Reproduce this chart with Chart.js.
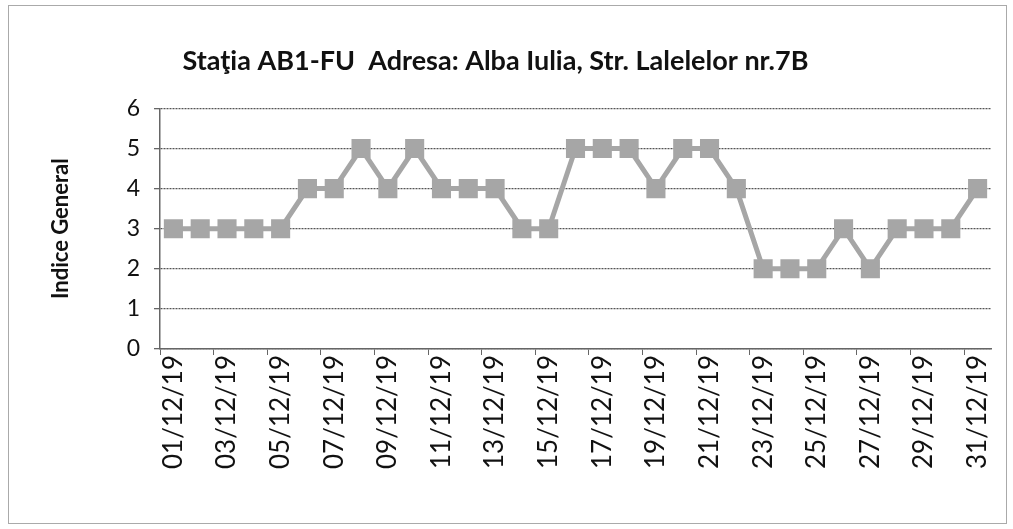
<!DOCTYPE html>
<html>
<head>
<meta charset="utf-8">
<script src="https://cdn.jsdelivr.net/npm/chart.js@4/dist/chart.umd.min.js"></script>
<style>
html,body{margin:0;padding:0;background:#fff;}
#wrap{width:1013px;height:529px;position:relative;}
</style>
</head>
<body>
<div id="wrap"><canvas id="c" width="1013" height="529"></canvas></div>
<script>
const categories = ["01/12/19","02/12/19","03/12/19","04/12/19","05/12/19","06/12/19","07/12/19","08/12/19","09/12/19","10/12/19","11/12/19","12/12/19","13/12/19","14/12/19","15/12/19","16/12/19","17/12/19","18/12/19","19/12/19","20/12/19","21/12/19","22/12/19","23/12/19","24/12/19","25/12/19","26/12/19","27/12/19","28/12/19","29/12/19","30/12/19","31/12/19"];
const indiceGeneral = [3,3,3,3,3,4,4,5,4,5,4,4,4,3,3,5,5,5,4,5,5,4,2,2,2,3,2,3,3,3,4];
const yTicks = [0,1,2,3,4,5,6];
const chartTitle = "Staţia AB1-FU  Adresa: Alba Iulia, Str. Lalelelor nr.7B";
const yTitle = "Indice General";

const FONT = "Lato, 'Open Sans', sans-serif";

const framePlugin = {
  id: 'frame',
  beforeDraw(chart) {
    const ctx = chart.ctx;
    ctx.save();
    ctx.fillStyle = '#fff';
    ctx.fillRect(0, 0, chart.width, chart.height);
    ctx.strokeStyle = '#aaa';
    ctx.lineWidth = 1;
    ctx.strokeRect(8.5, 5.5, 998, 518);
    ctx.restore();
  }
};

new Chart(document.getElementById('c'), {
  type: 'line',
  data: {
    labels: categories,
    datasets: [{
      label: yTitle,
      data: indiceGeneral,
      borderColor: '#a6a6a6',
      backgroundColor: '#a6a6a6',
      borderWidth: 5,
      pointStyle: 'rect',
      pointRadius: 13.5,
      pointBorderWidth: 0,
      pointBackgroundColor: '#a6a6a6',
      tension: 0
    }]
  },
  options: {
    responsive: false,
    animation: false,
    layout: { padding: { left: 0, right: 22, top: 0, bottom: 0 } },
    plugins: {
      legend: { display: false },
      tooltip: { enabled: false },
      title: {
        display: true,
        text: chartTitle,
        color: '#111',
        font: { family: FONT, size: 27, weight: 'bold' },
        padding: { top: 45, bottom: 31 },
        align: 'center'
      }
    },
    scales: {
      x: {
        type: 'category',
        offset: true,
        grid: {
          offset: true,
          drawOnChartArea: false,
          drawTicks: true,
          tickLength: 6,
          color: '#666',
          tickColor: (c) => (c.index % 2 === 0 ? '#666' : 'rgba(0,0,0,0)')
        },
        border: { display: true, color: '#666', width: 1.5, dash: [2, 1] },
        ticks: {
          autoSkip: false,
          maxRotation: 90,
          minRotation: 90,
          color: '#111',
          padding: 0,
          font: { family: FONT, size: 26 },
          callback: function (v, i) { return i % 2 === 0 ? this.getLabelForValue(v) : ''; }
        },
        afterFit(scale) { scale.height = 529 - 349; }
      },
      y: {
        min: 0,
        max: 6,
        afterBuildTicks(scale) { scale.ticks = yTicks.map(v => ({ value: v })); },
        grid: {
          color: '#555',
          lineWidth: 1.3,
          drawTicks: true,
          tickLength: 6,
          tickColor: '#666'
        },
        border: { display: true, color: '#666', width: 1.5, dash: [2, 1] },
        ticks: {
          color: '#111',
          padding: 14,
          font: { family: FONT, size: 23 }
        },
        title: {
          display: true,
          text: yTitle,
          color: '#111',
          font: { family: FONT, size: 22, weight: 'bold' },
          padding: { top: 48, bottom: 30 }
        },
        afterFit(scale) { scale.width = 160; }
      }
    }
  },
  plugins: [framePlugin]
});
</script>
</body>
</html>
